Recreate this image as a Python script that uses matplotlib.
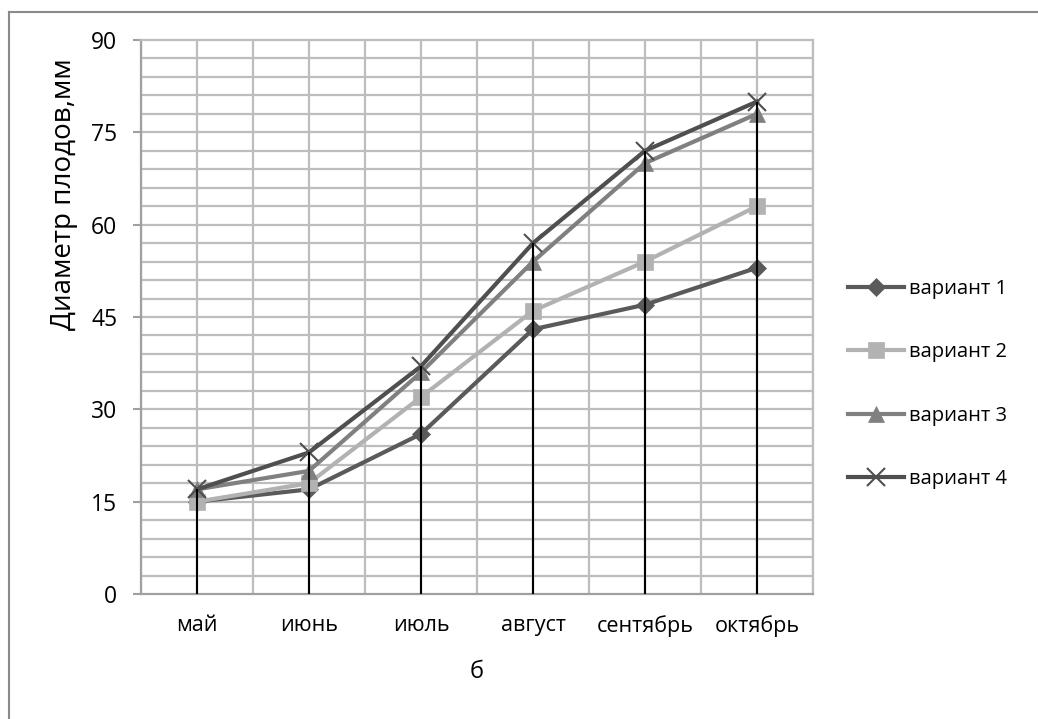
import numpy as np
import matplotlib
matplotlib.use("Agg")
import matplotlib.pyplot as plt
from matplotlib.lines import Line2D

plt.rcParams['font.family'] = ['Open Sans', 'DejaVu Sans']

months = ["май", "июнь", "июль", "август", "сентябрь", "октябрь"]
variant_1 = [15, 17, 26, 43, 47, 53]
variant_2 = [15, 18, 32, 46, 54, 63]
variant_3 = [17, 20, 36, 54, 70, 78]
variant_4 = [17, 23, 37, 57, 72, 80]
labels = ["вариант 1", "вариант 2", "вариант 3", "вариант 4"]
y_ticks = [0, 15, 30, 45, 60, 75, 90]

series = [variant_1, variant_2, variant_3, variant_4]
colors = ["#5a5a5a", "#b2b2b2", "#808080", "#4f4f4f"]
markers = ["D", "s", "^", "x"]
msizes = [9.5, 11.5, 11.5, 12.5]
grid_c = "#bdbdbd"

W, H = 1038, 719
fig = plt.figure(figsize=(W / 100, H / 100), dpi=100)
ax = fig.add_axes([141 / W, 1 - 594 / H, (813 - 141) / W, (594 - 40) / H])

x = np.arange(len(months))
ax.set_xlim(-0.5, len(months) - 0.5)
ax.set_ylim(0, 90)

# grid: every 3 units vertically, every half category horizontally
for yv in np.arange(3, 90, 3):
    ax.axhline(yv, color=grid_c, lw=1.6, zorder=0)
for xv in np.arange(-0.5, len(months), 0.5):
    ax.axvline(xv, color=grid_c, lw=1.6, zorder=0)

for vals, c, m, ms, lab in zip(series, colors, markers, msizes, labels):
    ax.plot(x, vals, color=c, lw=3, marker=m, markersize=ms,
            markeredgewidth=1.5 if m == "x" else 0.5, markeredgecolor=c,
            markerfacecolor=c, label=lab, zorder=3)

# drop lines from the highest point down to the axis
tops = np.max(np.array(series), axis=0)
ax.vlines(x, 0, tops, color="black", lw=1.5, zorder=4)

for s in ax.spines.values():
    s.set_color(grid_c)
    s.set_linewidth(1.6)
ax.spines["left"].set_color("#a0a0a0")
ax.spines["bottom"].set_color("#a0a0a0")

ax.set_yticks(y_ticks)
ax.set_xticks(x)
ax.set_xticklabels(months)
ax.tick_params(axis="y", direction="out", length=6, width=1.5, color="#a0a0a0",
               labelsize=16.5, pad=11)
ax.tick_params(axis="x", length=0, labelsize=15.5, pad=15)

fig.text(64 / W, 1 - 194 / H, "Диаметр плодов,мм", rotation=90,
         ha="center", va="center", fontsize=20)
fig.text(477 / W, 1 - 672 / H, "б", ha="center", va="center", fontsize=17)

handles = [Line2D([0], [0], color=c, lw=3, marker=m, markersize=ms,
                  markeredgecolor=c, markerfacecolor=c,
                  markeredgewidth=1.5 if m == "x" else 0.5)
           for c, m, ms in zip(colors, markers, msizes)]
fig.legend(handles, labels, loc="center left", bbox_to_anchor=(838 / W, 1 - 384 / H),
           frameon=False, fontsize=14.5, labelspacing=2.15, handlelength=2.8,
           handletextpad=0.25, borderpad=0)

# outer frame (top and left edges)
fig.add_artist(Line2D([8.5 / W, 8.5 / W], [0, 1 - 12 / H], transform=fig.transFigure,
                      color="#8a8a8a", lw=1.5))
fig.add_artist(Line2D([8.5 / W, 1], [1 - 12 / H, 1 - 12 / H], transform=fig.transFigure,
                      color="#8a8a8a", lw=1.5))

fig.savefig("out.png", dpi=100, facecolor="white")
